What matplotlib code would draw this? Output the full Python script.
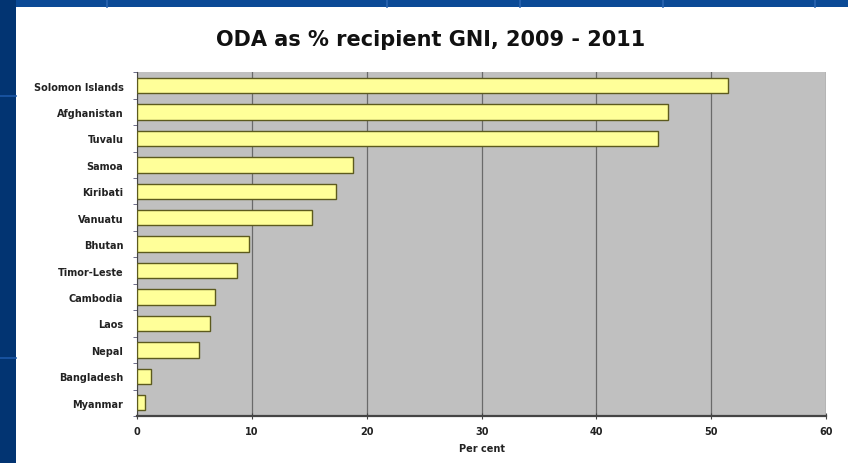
import matplotlib
matplotlib.use("Agg")
import matplotlib.pyplot as plt
from matplotlib.patches import Rectangle
import numpy as np

countries = ["Solomon Islands", "Afghanistan", "Tuvalu", "Samoa", "Kiribati",
             "Vanuatu", "Bhutan", "Timor-Leste", "Cambodia", "Laos", "Nepal",
             "Bangladesh", "Myanmar"]
oda_pct_gni = [51.5, 46.2, 45.4, 18.8, 17.3, 15.2, 9.7, 8.7, 6.8, 6.3, 5.4, 1.2, 0.7]
x_ticks = [0, 10, 20, 30, 40, 50, 60]

W, H = 848, 464
fig = plt.figure(figsize=(W / 100, H / 100), dpi=100)
fig.patch.set_facecolor("#0b4a96")

# slide background: blue frame with faint grid lines, white content panel
bg = fig.add_axes([0, 0, 1, 1], zorder=-10)
bg.set_xlim(0, W)
bg.set_ylim(H, 0)
bg.axis("off")
bg.add_patch(Rectangle((0, 0), 16, H, color="#023472", lw=0))
for gx in [107, 387, 520, 663, 815]:
    bg.plot([gx, gx], [0, 8], color="#2a64b0", lw=1.2)
for gy in [97, 359]:
    bg.plot([0, 16], [gy, gy], color="#1c58a8", lw=1.2)
bg.add_patch(Rectangle((16, 8), W - 16, H - 8, color="white", lw=0))

ax = fig.add_axes([137.3 / W, 1 - 417 / H, (826 - 137.3) / W, (417 - 73.3) / H])
ax.set_facecolor("#c0c0c0")

label_font = dict(fontsize=7, fontweight="bold", family="DejaVu Sans", color="#222222")

y = np.arange(len(countries))
ax.barh(y, oda_pct_gni, height=0.58, color="#ffff99", edgecolor="#5c5a1e",
        linewidth=1.0, zorder=3)

ax.set_xlim(0, 60)
ax.set_ylim(len(countries) - 0.5, -0.5)
ax.set_xticks(x_ticks)
ax.set_xticklabels([str(t) for t in x_ticks], **label_font)
ax.set_yticks(y)
ax.set_yticklabels(countries, **label_font)
ax.set_yticks(np.arange(len(countries) + 1) - 0.5, minor=True)
ax.tick_params(axis="y", which="major", length=0, pad=10)
ax.tick_params(axis="y", which="minor", length=3, color="#555577", direction="out")
ax.tick_params(axis="x", which="major", length=4, color="#444444", direction="inout", pad=5)

ax.grid(axis="x", color="#6a6a6a", linewidth=0.9, zorder=1)
ax.set_axisbelow(True)
for side in ["top", "right"]:
    ax.spines[side].set_visible(False)
ax.spines["left"].set_color("#444444")
ax.spines["bottom"].set_color("#444444")
ax.spines["bottom"].set_linewidth(1.6)

ax.set_xlabel("Per cent", labelpad=5, **label_font)

fig.text(431 / W, 1 - 40 / H, "ODA as % recipient GNI, 2009 - 2011",
         ha="center", va="center", fontsize=15, fontweight="bold",
         family="DejaVu Sans", color="#111111")

fig.savefig("out.png", dpi=100, facecolor=fig.get_facecolor())
